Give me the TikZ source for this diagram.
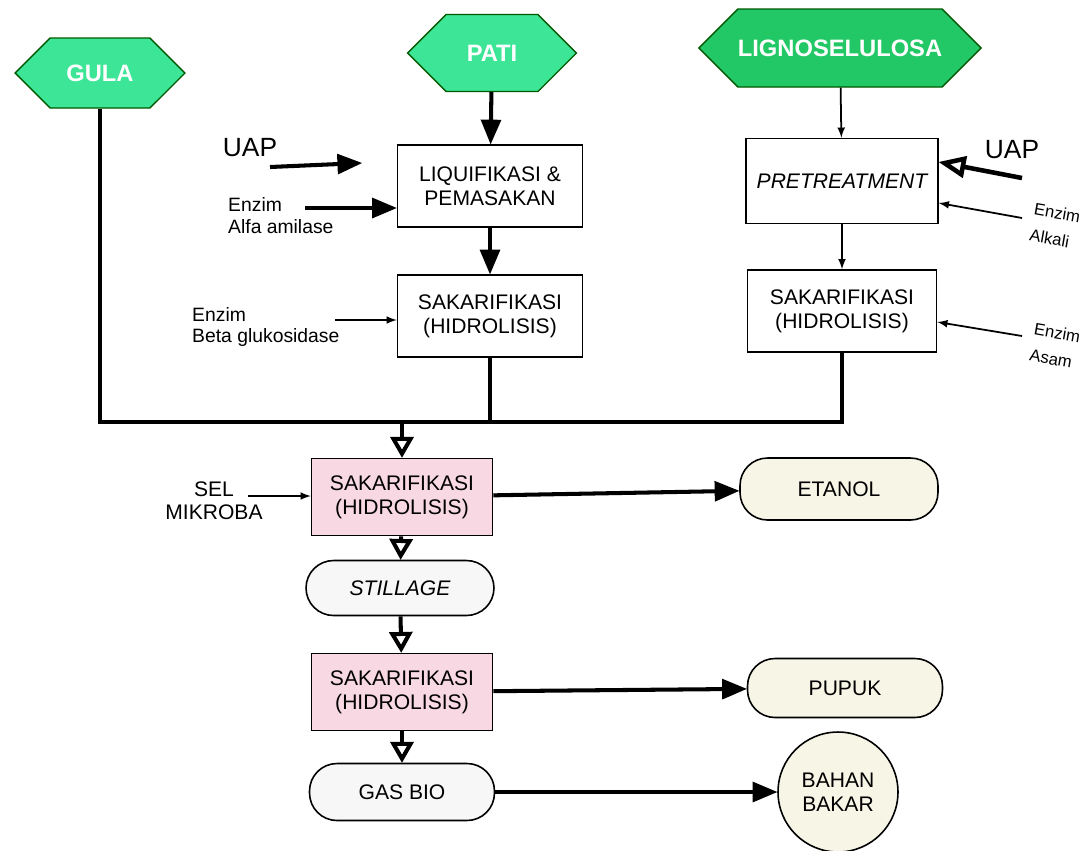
\documentclass[tikz,border=0pt]{standalone}
\usepackage{fontspec}
\setmainfont{Liberation Sans}
\usepackage{tikz}
\usetikzlibrary{arrows,shapes.symbols,shapes.geometric}
\usetikzlibrary{positioning}
\definecolor{hijau}{HTML}{3DE596}
\definecolor{hijautua}{HTML}{22C865}
\definecolor{merahmuda}{HTML}{F8D8E2}
\definecolor{krem}{HTML}{F7F5E6}
\definecolor{abu}{HTML}{F7F7F7}

\begin{document}
\begin{tikzpicture}[x=0.02cm,y=-0.02cm,
  bahan/.style={signal, signal to=west and east, draw=green!35!black, line width=0.8pt,
    fill=hijau, text=white, inner sep=0pt, font=\bfseries\fontsize{13.5}{15}\selectfont},
  proses/.style={rectangle, draw, line width=0.9pt, fill=white, align=center,
    minimum width=3.7cm, minimum height=1.64cm, font=\fontsize{12}{13.5}\selectfont},
  hidro/.style={proses, fill=merahmuda, minimum width=3.62cm, minimum height=1.54cm},
  hasil/.style={rectangle, rounded corners=0.55cm, draw, line width=0.9pt, align=center,
    font=\fontsize{12}{13.5}\selectfont},
  label/.style={align=left, font=\fontsize{11}{12.5}\selectfont},
  tebal/.style={line width=2.3pt},
  tipis/.style={line width=1pt}]
\useasboundingbox (0,0) rectangle (1085,850);

% bahan baku
\node[bahan, minimum width=3.4cm, minimum height=1.4cm] (gula) at (100,73) {GULA};
\node[bahan, minimum width=3.38cm, minimum height=1.54cm] (pati) at (492,53) {PATI};
\node[bahan, fill=hijautua, minimum width=5.64cm, minimum height=1.56cm] (ligno) at (840,48) {LIGNOSELULOSA};

% jalur pati
\node[proses] (liq) at (490,186) {LIQUIFIKASI \&\\PEMASAKAN};
\node[proses] (sak1) at (490,316) {SAKARIFIKASI\\(HIDROLISIS)};
\node[font=\fontsize{15}{16}\selectfont] (uap1) at (250,148) {UAP};
\node[label, anchor=west] (alfa) at (222,216) {Enzim\\Alfa amilase};
\node[label, anchor=west] (beta) at (186,327) {Enzim\\Beta glukosidase};

% jalur lignoselulosa
\node[proses, minimum width=3.84cm, minimum height=1.7cm, font=\itshape\fontsize{12}{13.5}\selectfont] (pre) at (842,181) {PRETREATMENT};
\node[proses, minimum width=3.78cm] (sak2) at (842,311) {SAKARIFIKASI\\(HIDROLISIS)};
\node[font=\fontsize{15}{16}\selectfont] (uap2) at (1012,150) {UAP};
\node[label, rotate=-10, font=\fontsize{9.5}{15}\selectfont] (alkali) at (1055,226) {Enzim\\Alkali};
\node[label, rotate=-10, font=\fontsize{9.5}{15}\selectfont] (asam) at (1055,346) {Enzim\\Asam};

% fermentasi
\node[hidro] (hid1) at (402,497) {SAKARIFIKASI\\(HIDROLISIS)};
\node[align=center, font=\fontsize{12}{13}\selectfont] (sel) at (214,501) {SEL\\MIKROBA};
\node[hasil, fill=abu, minimum width=3.76cm, minimum height=1.1cm, font=\itshape\fontsize{12}{13.5}\selectfont] (still) at (400,588) {STILLAGE};
\node[hidro] (hid2) at (402,692) {SAKARIFIKASI\\(HIDROLISIS)};
\node[hasil, fill=abu, minimum width=3.7cm, minimum height=1.14cm] (gas) at (402,792) {GAS BIO};

% hasil
\node[hasil, fill=krem, minimum width=3.96cm, minimum height=1.24cm] (etanol) at (839,489) {ETANOL};
\node[hasil, fill=krem, minimum width=3.9cm, minimum height=1.18cm] (pupuk) at (845,688) {PUPUK};
\node[circle, draw, line width=0.9pt, fill=krem, minimum size=2.4cm, align=center,
  inner sep=0pt, font=\fontsize{12}{13.5}\selectfont] (bakar) at (838,792) {BAHAN\\BAKAR};

% titik bantu
\coordinate (gabung) at (402,422);
\coordinate (uap1-ekor) at (270,167);
\coordinate (uap1-ujung) at (362,163);
\coordinate (alfa-ekor) at (305,208);
\coordinate (beta-ekor) at (335,320);
\coordinate (sel-ekor) at (248,496);
\coordinate (uap2-ekor) at (1022,178);
\coordinate (alkali-ekor) at (1022,218);
\coordinate (asam-ekor) at (1022,336);

% panah
\draw[tebal,-triangle 45] (pati) -- (liq);
\draw[tebal,-triangle 45] (liq) -- (sak1);
\draw[tebal,-triangle 45] (uap1-ekor) -- (uap1-ujung);
\draw[tebal,-triangle 45] (alfa-ekor) -- (alfa-ekor -| liq.west);
\draw[tipis,-latex] (beta-ekor) -- (beta-ekor -| sak1.west);

\draw[tipis,-latex] (ligno) -- (pre);
\draw[tipis,-latex] (pre) -- (sak2);
\draw[line width=2.6pt,-open triangle 45] (uap2-ekor) -- ([yshift=0.38cm]pre.east);
\draw[tipis,-latex] (alkali-ekor) -- ([yshift=-0.44cm]pre.east);
\draw[tipis,-latex] (asam-ekor) -- ([yshift=-0.22cm]sak2.east);

\draw[tebal] (gula.south) |- (gabung);
\draw[tebal] (sak1.south) |- (gabung);
\draw[tebal] (sak2.south) |- (gabung);
\draw[tebal,-open triangle 60] (gabung) -- (hid1.north);

\draw[tipis,-latex] (sel-ekor) -- (sel-ekor -| hid1.west);
\draw[tebal,-triangle 45] (hid1) -- (etanol);
\draw[tebal,-open triangle 60] (hid1) -- (still);
\draw[tebal,-open triangle 60] (still) -- (hid2);
\draw[tebal,-open triangle 60] (hid2) -- (gas);
\draw[tebal,-triangle 45] (hid2) -- (pupuk);
\draw[tebal,-triangle 45] (gas) -- (bakar);
\end{tikzpicture}
\end{document}
